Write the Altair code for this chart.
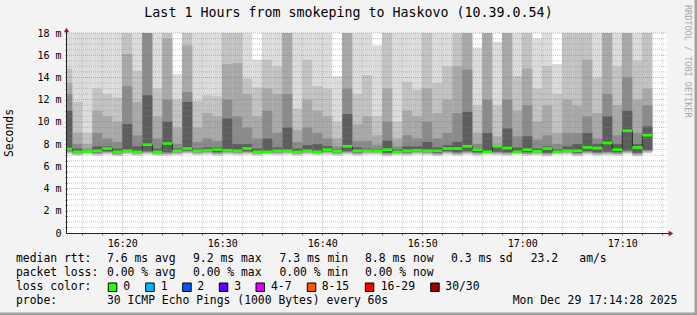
import altair as alt
import pandas as pd

# ---------------- data ----------------
# minute after 16:00 at which each 60 s column starts (first one is cut by the left edge)
col_start = list(range(14, 73))

median_ms = [7.55,
             7.3, 7.35, 7.4, 7.6, 7.3, 7.4, 7.3, 7.95, 7.3, 8.05,
             7.4, 7.6, 7.4, 7.45, 7.5, 7.45, 7.4, 7.6, 7.3, 7.3,
             7.4, 7.4, 7.3, 7.4, 7.3, 7.5, 7.35, 7.8, 7.4, 7.4,
             7.35, 7.5, 7.3, 7.4, 7.45, 7.4, 7.4, 7.6, 7.6, 7.8,
             7.5, 7.3, 7.8, 7.65, 7.3, 7.5, 7.35, 7.6, 7.3, 7.4,
             7.4, 7.7, 7.65, 8.1, 7.5, 9.2, 7.7, 8.8]

# smoke: lowest ping, then the upper edges of the five grey bands (lightest -> darkest)
low_ms = [7.1,
          6.95, 7.05, 6.95, 7.05, 6.9, 7.05, 6.95, 7.05, 6.95, 6.95,
          7.0, 7.1, 7.0, 7.05, 6.95, 7.05, 7.0, 7.05, 6.95, 7.05,
          7.0, 7.05, 6.95, 7.05, 7.0, 7.05, 6.95, 7.05, 6.95, 7.05,
          7.05, 6.9, 7.0, 6.95, 7.05, 7.0, 6.9, 7.05, 6.95, 7.05,
          6.95, 7.05, 7.0, 6.95, 7.05, 6.95, 7.0, 6.9, 7.05, 7.05,
          6.9, 7.05, 6.95, 7.0, 6.95, 7.1, 6.9, 7.15]

top_ms = [19,
          19, 19, 19, 19, 19, 19, 19, 19, 19, 19,
          14.3, 19, 19, 19, 19, 19, 19, 19, 15.6, 19,
          19, 19, 19, 19, 19, 19, 14.1, 19, 19, 19,
          16.9, 19, 19, 19, 19, 19, 19, 19, 19, 19,
          16.7, 19, 17.2, 19, 19, 19, 17.5, 19, 15.2, 19,
          19, 19, 19, 19, 19, 19, 19, 19]

q4_ms = [14.8,
         11.8, 9.0, 13.0, 12.5, 12.2, 19, 14.6, 19, 13.0, 19,
         12.0, 19, 11.9, 12.4, 12.3, 19, 19, 13.9, 13.1, 15.6,
         15.0, 19, 11.2, 15.6, 13.2, 13.0, 10.0, 19, 12.5, 14.2,
         10.5, 19, 10.0, 13.6, 12.9, 19, 13.5, 15.0, 19, 19,
         11.5, 19, 11.5, 19, 14.1, 19, 13.0, 15.0, 12.5, 19,
         19, 19, 14.0, 19, 15.0, 19, 15.5, 19]

q3_ms = [13.5,
         9.0, 8.0, 11.0, 10.5, 10.0, 16.1, 11.8, 19, 10.5, 17.5,
         9.5, 16.9, 9.5, 10.8, 10.5, 15.2, 15.3, 12.5, 10.5, 13.0,
         12.5, 19, 9.3, 12.0, 11.0, 10.5, 8.5, 19, 9.8, 10.5,
         8.8, 13.0, 8.5, 11.0, 10.5, 13.0, 10.8, 12.0, 15.0, 19,
         9.0, 19, 8.7, 19, 11.0, 14.8, 10.0, 11.5, 9.0, 12.0,
         11.5, 15.6, 10.8, 19, 11.5, 19, 12.0, 13.0]

q2_ms = [12.5,
         8.0, 7.6, 9.0, 8.5, 8.2, 13.2, 8.8, 19, 8.5, 12.0,
         8.0, 12.7, 8.2, 8.5, 8.3, 12.0, 10.5, 9.5, 8.5, 11.0,
         9.0, 12.5, 8.2, 9.5, 9.0, 8.5, 7.8, 13.0, 8.3, 8.3,
         7.9, 10.0, 7.8, 8.8, 8.5, 10.0, 8.5, 9.0, 10.8, 14.7,
         8.0, 12.0, 7.9, 12.0, 8.7, 11.5, 8.4, 8.8, 8.0, 9.0,
         9.0, 10.5, 8.5, 12.5, 8.8, 14.0, 9.0, 11.5]

q1_ms = [11.0,
         7.6, 7.45, 7.8, 7.8, 7.6, 9.8, 7.8, 12.4, 7.6, 10.0,
         7.6, 11.8, 7.6, 7.7, 7.7, 10.3, 8.0, 8.0, 7.6, 8.5,
         7.7, 9.5, 7.6, 7.9, 8.0, 7.8, 7.5, 10.7, 7.7, 7.6,
         7.5, 8.3, 7.5, 7.8, 7.8, 8.2, 7.7, 7.9, 8.2, 10.9,
         7.6, 9.0, 7.9, 9.4, 7.7, 8.7, 7.6, 7.8, 7.5, 7.8,
         8.0, 9.0, 8.0, 10.5, 8.0, 11.0, 8.0, 9.6]

y_ticks = [v / 2 for v in range(0, 37)]
x_ticks = list(range(16, 75, 2))

title_text = "Last 1 Hours from smokeping to Haskovo (10.39.0.54)"
side_text = "RRDTOOL / TOBI OETIKER"
line1 = ["median rtt:", "7.6 ms avg", "9.2 ms max", "7.3 ms min", "8.8 ms now", "0.3 ms sd", "23.2", "am/s"]
line2 = ["packet loss:", "0.00 % avg", "0.00 % max", "0.00 % min", "0.00 % now"]
line3 = ["loss color:", "0", "1", "2", "3", "4-7", "8-15", "16-29", "30/30"]
line4 = ["probe:", "30 ICMP Echo Pings (1000 Bytes) every 60s", "Mon Dec 29 17:14:28 2025"]
loss_colors = ["#26ff00", "#00b8ff", "#0059ff", "#5e00ff", "#dd00ff", "#ff5500", "#ff0000", "#a10000"]

# ---------------- styling / layout ----------------
FONT = "DejaVu Sans Mono"
W, H = 600, 200
L, T = 67, 33
shades = ["#dcdcdc", "#c3c3c3", "#a9a9a9", "#8b8b8b", "#5d5d5d"]
low_offset = [0.0, 0.08, 0.16, 0.24, 0.32]

xs = alt.Scale(domain=[14.4667, 74.4667], nice=False, zero=False)
ys = alt.Scale(domain=[0, 18], nice=False, zero=False)

x_lab = ("datum.value % 10 == 0 ? (16 + floor(datum.value / 60)) + ':' + "
         "((datum.value % 60) < 10 ? '0' : '') + (datum.value % 60) : ''")
y_lab = "datum.value == 0 ? '0' : (datum.value % 2 == 0 ? datum.value + ' m' : '')"

xa = alt.Axis(values=x_ticks, labelExpr=x_lab, title=None, grid=False, domain=False, tickSize=2,
              tickColor="#777", labelPadding=3, labelFont=FONT, labelFontSize=10, labelColor="#000",
              labelOverlap=False, labelFlush=False)
ya = alt.Axis(values=y_ticks, labelExpr=y_lab, title=None, grid=False, domain=False, tickSize=2,
              tickColor="#777", labelPadding=4, labelFont=FONT, labelFontSize=10, labelColor="#000",
              labelOverlap=False, labelFlush=False)

rows = []
for k in range(5):
    for i, t in enumerate(col_start):
        ups = [top_ms[i], q4_ms[i], q3_ms[i], q2_ms[i], q1_ms[i]]
        rows.append(dict(t0=t, t1=t + 1, y0=low_ms[i] + low_offset[k], y1=ups[k], shade=shades[k]))
smoke_df = pd.DataFrame(rows)

med_df = pd.DataFrame(dict(t0=col_start, t1=[t + 1 for t in col_start],
                           y0=[m - 0.12 for m in median_ms], y1=[m + 0.12 for m in median_ms]))
step_df = pd.DataFrame(dict(t0=col_start + [col_start[-1] + 1], y0=median_ms + [median_ms[-1]]))

smoke = alt.Chart(smoke_df).mark_rect(clip=True).encode(
    x=alt.X("t0:Q", scale=xs, axis=xa), x2="t1:Q",
    y=alt.Y("y0:Q", scale=ys, axis=ya), y2="y1:Q",
    color=alt.Color("shade:N", scale=None),
)

step = alt.Chart(step_df).mark_line(interpolate="step-after", color="#202020", strokeWidth=1, clip=True).encode(
    x=alt.X("t0:Q", scale=xs, axis=xa), y=alt.Y("y0:Q", scale=ys, axis=ya))

green = alt.Chart(med_df).mark_rect(color="#26ff00", clip=True).encode(
    x=alt.X("t0:Q", scale=xs, axis=xa), x2="t1:Q",
    y=alt.Y("y0:Q", scale=ys, axis=ya), y2="y1:Q")

hgrid_df = pd.DataFrame(dict(y0=y_ticks[1:], major=[(v % 2 == 0) for v in y_ticks[1:]]))
vgrid_df = pd.DataFrame(dict(t0=x_ticks, major=[(v % 10 == 0) for v in x_ticks]))

def hgrid(cond, color):
    return alt.Chart(hgrid_df).transform_filter(cond).mark_rule(
        color=color, opacity=0.45, strokeDash=[1, 1], strokeWidth=1).encode(
        y=alt.Y("y0:Q", scale=ys, axis=ya), x=alt.value(0), x2=alt.value(W))

def vgrid(cond, color):
    return alt.Chart(vgrid_df).transform_filter(cond).mark_rule(
        color=color, opacity=0.45, strokeDash=[1, 1], strokeWidth=1).encode(
        x=alt.X("t0:Q", scale=xs, axis=xa), y=alt.value(0), y2=alt.value(H))

hminor = hgrid("!datum.major", "#8c8c8c")
hmajor = hgrid("datum.major", "#d04040")
vminor = vgrid("!datum.major", "#8c8c8c")
vmajor = vgrid("datum.major", "#d04040")

one = pd.DataFrame({"a": [0]})
xaxis = alt.Chart(one).mark_rule(color="#222", strokeWidth=1).encode(
    x=alt.value(0), x2=alt.value(W + 3), y=alt.value(H + 0.5))
yaxis = alt.Chart(one).mark_rule(color="#222", strokeWidth=1).encode(
    x=alt.value(-0.5), y=alt.value(-3), y2=alt.value(H))
arrow_up = alt.Chart(one).mark_point(
    shape="triangle-up", filled=True, size=28, color="#a01818", opacity=1).encode(
    x=alt.value(-0.5), y=alt.value(-3))
arrow_right = alt.Chart(one).mark_point(
    shape="triangle-right", filled=True, size=28, color="#a01818", opacity=1).encode(
    x=alt.value(W + 4), y=alt.value(H + 0.5))


def txt(items, xs_abs, y_abs, size=11.4, color="#000", align="left"):
    df = pd.DataFrame(dict(label=items, px=[x - L for x in xs_abs], py=[y_abs - T] * len(items)))
    return alt.Chart(df).mark_text(font=FONT, fontSize=size, color=color, align=align,
                                   baseline="middle").encode(
        x=alt.X("px:Q", scale=None), y=alt.Y("py:Q", scale=None), text="label:N")

title = txt([title_text], [348.5], 13, size=13.3, align="center")
ylab = alt.Chart(pd.DataFrame({"label": ["Seconds"]})).mark_text(
    font=FONT, fontSize=11.4, angle=270, baseline="middle", align="center", color="#000").encode(
    x=alt.value(10 - L), y=alt.value(133 - T), text="label:N")
side = alt.Chart(pd.DataFrame({"label": [side_text]})).mark_text(
    font=FONT, fontSize=8.5, angle=90, baseline="middle", align="left", color="#a8a8a8").encode(
    x=alt.value(688 - L), y=alt.value(5 - T), text="label:N")

t1 = txt(line1, [16, 107, 193, 279.5, 365, 451, 530.7, 579.3], 259.3)
t2 = txt(line2, [16, 107, 193, 279.5, 365], 273.3)
t3 = txt(line3, [16, 123.3, 160.7, 197.3, 234.3, 271, 321.7, 380.7, 445.3], 287.3)
t4 = txt(line4, [16, 107, 512.7], 301.3)

box_x0 = [108.3, 145.7, 182.7, 219.3, 256, 307.3, 365.3, 430.7]
box_df = pd.DataFrame(dict(c=loss_colors, x0=[x - L for x in box_x0], x1=[x - L + 8.5 for x in box_x0],
                           y0=[283 - T] * 8, y1=[291.5 - T] * 8))
boxes = alt.Chart(box_df).mark_rect(stroke="#000", strokeWidth=1).encode(
    x=alt.X("x0:Q", scale=None), x2="x1:Q", y=alt.Y("y0:Q", scale=None), y2="y1:Q",
    color=alt.Color("c:N", scale=None))

frame_df = pd.DataFrame(dict(x0=[694.5 - L, -L], x1=[697 - L, 697 - L], y0=[-T, 312.5 - T], y1=[315 - T, 315 - T]))
frame = alt.Chart(frame_df).mark_rect(color="#a0a0a0").encode(
    x=alt.X("x0:Q", scale=None), x2="x1:Q", y=alt.Y("y0:Q", scale=None), y2="y1:Q")

chart = alt.layer(
    smoke, step, green, hminor, vminor, hmajor, vmajor, xaxis, yaxis, arrow_up, arrow_right,
    title, ylab, side, t1, t2, t3, t4, boxes, frame
).properties(
    width=W, height=H, background="#f3f3f3",
    autosize=alt.AutoSizeParams(type="none"),
    padding={"left": L, "top": T, "right": 697 - L - W, "bottom": 315 - T - H},
).configure_view(fill="white", stroke=None)

chart.save("out.html", embed_options={"renderer": "svg", "actions": False})
